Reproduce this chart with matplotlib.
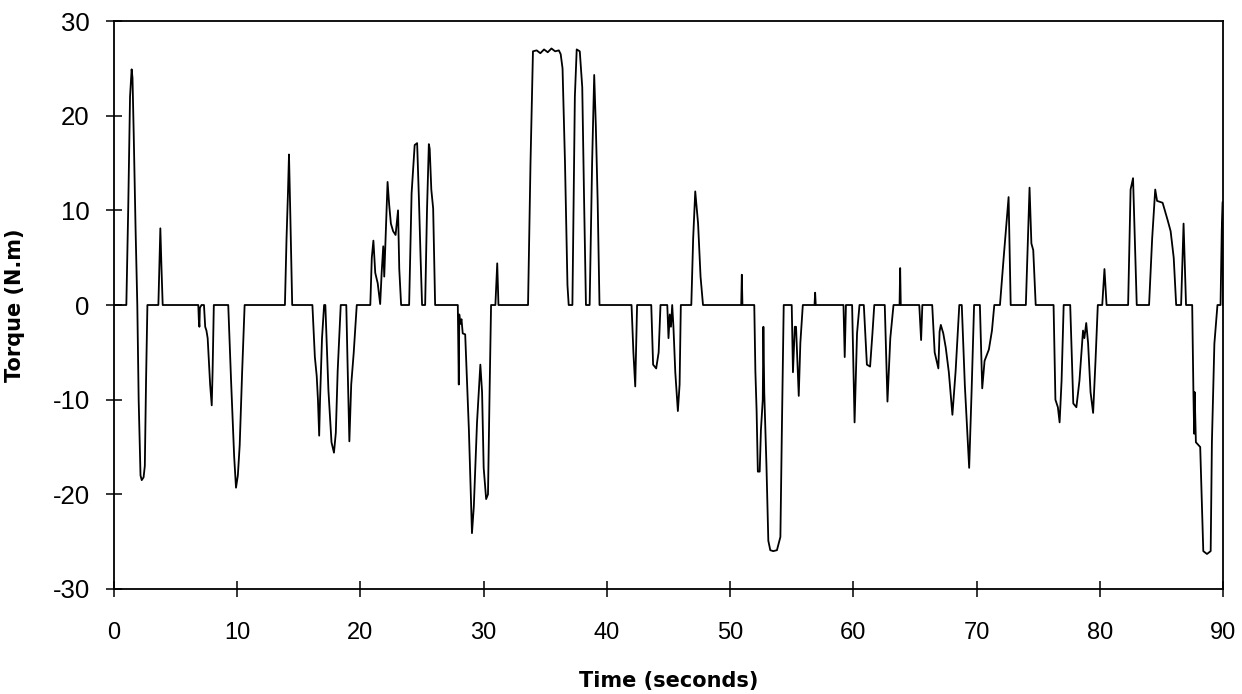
import matplotlib
matplotlib.use("Agg")
import matplotlib.pyplot as plt

# Torque trace: time (s) and torque (N.m) sample points
time_s = [
    0, 1.0, 1.15, 1.3, 1.43, 1.5, 1.6, 1.75, 1.89, 2.0, 2.15, 2.25, 2.4, 2.5, 2.6, 2.71,
    3.6, 3.68, 3.76, 3.85, 3.95,
    6.84, 6.88, 6.93, 6.97, 7.1, 7.3, 7.4, 7.5, 7.6, 7.7, 7.8, 7.93, 8.0, 8.1,
    9.27, 9.5, 9.75, 9.9, 10.05, 10.2, 10.4, 10.6,
    13.87, 14.0, 14.12, 14.2, 14.3, 14.46,
    16.1, 16.3, 16.45, 16.55, 16.65, 16.72, 16.88, 17.05, 17.15, 17.4, 17.65, 17.85, 18.0, 18.15, 18.4,
    18.85, 18.95, 19.1, 19.25, 19.45, 19.7,
    20.8, 20.92, 21.05, 21.2, 21.4, 21.6, 21.72, 21.85, 21.93, 22.02, 22.2, 22.33, 22.47, 22.65, 22.85,
    23.05, 23.15, 23.3,
    23.95, 24.15, 24.4, 24.6, 24.75, 24.88, 25.0,
    25.25, 25.4, 25.55, 25.62, 25.75, 25.9, 26.06,
    27.9, 27.98, 28.02, 28.1, 28.2, 28.3, 28.5, 28.8, 29.05, 29.2, 29.46, 29.73, 29.87, 30.0, 30.2,
    30.35, 30.48, 30.6,
    30.95, 31.1, 31.2,
    33.6, 33.8, 34.0, 34.3, 34.6, 34.9, 35.2, 35.5, 35.8, 36.1, 36.25, 36.4, 36.6, 36.8, 36.9,
    37.2, 37.4, 37.55, 37.8, 38.0, 38.15, 38.3,
    38.6, 38.8, 38.97, 39.1, 39.25, 39.4,
    42.0, 42.15, 42.3, 42.45,
    43.6, 43.75, 44.0, 44.2, 44.35, 44.9, 45.0, 45.1, 45.2, 45.3, 45.4, 45.55, 45.76, 45.9, 46.0,
    46.85, 47.0, 47.17, 47.4, 47.6, 47.8,
    50.9, 50.95, 51.0,
    51.96, 52.05, 52.15, 52.25, 52.4, 52.5, 52.65, 52.7, 52.77, 52.95, 53.1, 53.26, 53.5, 53.8, 54.08,
    54.2, 54.35,
    55.0, 55.1, 55.25, 55.35, 55.57, 55.7, 55.9,
    56.85, 56.9, 56.95,
    59.2, 59.3, 59.4, 59.9, 60.1, 60.3, 60.5, 60.85, 61.1, 61.36, 61.55, 61.7,
    62.55, 62.77, 63.0, 63.26, 63.75, 63.8, 63.85, 65.35, 65.5, 65.6,
    66.4, 66.6, 66.9, 67.0, 67.1, 67.3, 67.5, 67.75, 68.04, 68.3, 68.6,
    68.8, 69.05, 69.4, 69.6, 69.8, 70.27, 70.46, 70.65, 71.0, 71.25, 71.44,
    71.9, 72.2, 72.6, 72.77, 74.0, 74.3, 74.45, 74.6, 74.8,
    76.25, 76.4, 76.6, 76.74, 76.9, 77.07, 77.6, 77.85, 78.1, 78.35, 78.64, 78.75, 78.9, 79.05, 79.25,
    79.46, 79.65, 79.84,
    80.2, 80.38, 80.55, 82.3, 82.5, 82.7, 83.0,
    84.0, 84.25, 84.5, 84.65, 85.1, 85.5, 85.75, 86.0, 86.2, 86.6, 86.8, 87.0,
    87.5, 87.6, 87.66, 87.7, 87.8, 88.15, 88.4, 88.7, 89.0, 89.1, 89.3, 89.55,
    89.8, 89.9, 89.98, 90.0,
]

torque_nm = [
    0, 0, 10, 22, 24.9, 24, 18, 8, 0, -10, -18, -18.5, -18.2, -17, -8, 0,
    0, 4, 8.1, 4, 0,
    0, -1.5, -2.3, -0.3, 0, 0, -2.3, -2.7, -3.5, -6, -8.4, -10.6, -7, 0,
    0, -8, -16, -19.3, -18, -14.8, -7, 0,
    0, 7, 12, 15.9, 10, 0,
    0, -5.5, -7.5, -10, -13.8, -10, -3.5, 0, 0, -9, -14.5, -15.6, -13.5, -7, 0,
    0, -6, -14.4, -8.4, -5.1, 0,
    0, 5, 6.8, 3.4, 2.3, 0.1, 3.4, 6.2, 3, 6.4, 13, 10.6, 8.6, 7.8, 7.4,
    10, 3.8, 0,
    0, 11.8, 16.9, 17.1, 11, 5, 0,
    0, 10, 17, 16.5, 12.2, 10.2, 0,
    0, -8.4, -1, -2, -1.5, -3, -3.1, -13.2, -24.1, -21.3, -12.4, -6.3, -9.2, -17.2, -20.5,
    -20, -9.2, 0,
    0, 4.4, 0,
    0, 15, 26.8, 26.9, 26.6, 27.0, 26.7, 27.1, 26.8, 26.9, 26.5, 25, 15, 2.1, 0,
    0, 22, 27, 26.8, 23, 11, 0,
    0, 15, 24.3, 19, 11, 0,
    0, -5, -8.6, 0,
    0, -6.3, -6.7, -5, 0, 0, -3.5, -1, -2.3, 0, -2.3, -7.1, -11.2, -8.4, 0,
    0, 7, 12, 8.6, 3, 0,
    0, 3.2, 0,
    0, -7, -11.2, -17.6, -17.6, -13.2, -10, -2.3, -9.2, -17, -24.9, -25.9, -26, -25.9, -24.5,
    -13.2, 0,
    0, -7.1, -2.3, -2.3, -9.6, -4, 0,
    0, 1.3, 0,
    0, -5.5, 0, 0, -12.4, -3, 0, 0, -6.3, -6.5, -3, 0,
    0, -10.2, -3.5, 0, 0, 3.9, 0, 0, -3.7, 0,
    0, -5, -6.7, -2.8, -2.1, -3, -4.5, -7.1, -11.6, -7, 0,
    0, -8.5, -17.2, -9, 0, 0, -8.8, -5.9, -4.7, -2.7, 0,
    0, 5, 11.4, 0, 0, 12.4, 6.5, 5.8, 0,
    0, -10, -10.8, -12.4, -8, 0, 0, -10.4, -10.8, -8, -2.7, -3.5, -1.9, -4, -9.2,
    -11.4, -6, 0,
    0, 3.8, 0, 0, 12.2, 13.4, 0,
    0, 7, 12.2, 11, 10.8, 9, 7.8, 5, 0, 0, 8.6, 0,
    0, -9.3, -13.6, -9.2, -14.5, -15, -26, -26.3, -26, -14.5, -4.1, 0,
    0, 7.9, 10.9, 0,
]

x_ticks = [0, 10, 20, 30, 40, 50, 60, 70, 80, 90]
y_ticks = [-30, -20, -10, 0, 10, 20, 30]

fig = plt.figure(figsize=(12.42, 6.94), dpi=100)
ax = fig.add_axes([0.0918, 0.1513, 0.8929, 0.8184])

ax.plot(time_s, torque_nm, color="black", linewidth=1.3, solid_joinstyle="round")

ax.set_xlim(0, 90)
ax.set_ylim(-30, 30)
ax.set_xticks(x_ticks)
ax.set_yticks(y_ticks)
ax.set_xticklabels([str(v) for v in x_ticks], fontsize=17, family="Liberation Sans")
ax.set_yticklabels([str(v) for v in y_ticks], fontsize=18.5, family="Liberation Sans")

ax.tick_params(axis="both", direction="inout", length=11, width=1.1, color="black")
ax.tick_params(axis="x", pad=18)
ax.tick_params(axis="y", pad=12)

for side in ["left", "right", "top", "bottom"]:
    ax.spines[side].set_linewidth(1.3)
    ax.spines[side].set_color("black")

ax.set_xlabel("Time (seconds)", fontsize=15, fontweight="bold", family="DejaVu Sans")
ax.set_ylabel("Torque (N.m)", fontsize=15, fontweight="bold", family="DejaVu Sans")
ax.xaxis.set_label_coords(0.5, -0.145)
ax.yaxis.set_label_coords(-0.080, 0.5)

fig.savefig("out.png", dpi=100, facecolor="white")
